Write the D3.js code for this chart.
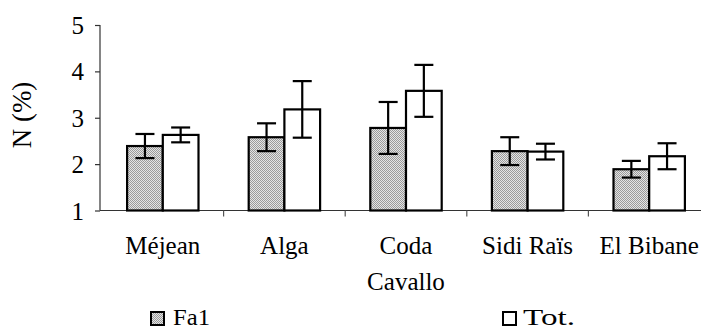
<!DOCTYPE html>
<html>
<head>
<meta charset="utf-8">
<script src="https://cdn.jsdelivr.net/npm/d3@7"></script>
<style>
html,body{margin:0;padding:0;background:#fff;}
svg{display:block;}
</style>
</head>
<body>
<svg id="chart" width="701" height="331"></svg>
<script>
const categories = ["Méjean", "Alga", "Coda Cavallo", "Sidi Raïs", "El Bibane"];
const seriesNames = ["Fa1", "Tot."];
const fa1Values = [2.39, 2.58, 2.78, 2.28, 1.89];
const fa1Errors = [0.26, 0.30, 0.56, 0.30, 0.18];
const totValues = [2.63, 3.18, 3.58, 2.27, 2.17];
const totErrors = [0.16, 0.61, 0.56, 0.17, 0.28];
const yTicks = [1, 2, 3, 4, 5];

const FONT = "'Liberation Serif', 'Times New Roman', 'DejaVu Serif', serif";
const svg = d3.select("#chart").attr("font-family", FONT);

const defs = svg.append("defs");
const pat = defs.append("pattern").attr("id", "dots")
  .attr("patternUnits", "userSpaceOnUse").attr("width", 2).attr("height", 2);
pat.append("rect").attr("width", 2).attr("height", 2).attr("fill", "#e4e4e4");
pat.append("rect").attr("x", 0).attr("y", 0).attr("width", 1).attr("height", 1).attr("fill", "#9a9a9a");
pat.append("rect").attr("x", 1).attr("y", 1).attr("width", 1).attr("height", 1).attr("fill", "#9a9a9a");

const y = d3.scaleLinear().domain([1, 5]).range([210.5, 25]);
const x = d3.scaleBand().domain(categories).range([102, 710]);
const barW = 35.7;
const capW = 19;

// Y axis
const yAxis = d3.axisLeft(y).tickValues(yTicks).tickSize(5).tickPadding(11).tickFormat(d3.format("d"));
const gy = svg.append("g").attr("transform", "translate(100,0)").call(yAxis)
  .attr("font-family", FONT).attr("font-size", 25);
gy.select(".domain").attr("stroke", "#333").attr("stroke-width", 1.2).attr("d", `M0,${y(5)}V${y(1)}`);
gy.selectAll(".tick line").attr("stroke", "#333").attr("stroke-width", 1.2);
gy.selectAll(".tick text").attr("fill", "#000").attr("dy", "0.34em");

// X axis line
svg.append("line").attr("x1", 100).attr("x2", 701).attr("y1", y(1)).attr("y2", y(1))
  .attr("stroke", "#333").attr("stroke-width", 1.2);
// category boundary ticks
svg.selectAll(".xtick").data(categories.slice(1)).enter().append("line")
  .attr("x1", d => x(d)).attr("x2", d => x(d))
  .attr("y1", y(1)).attr("y2", y(1) + 6)
  .attr("stroke", "#555").attr("stroke-width", 1.2);

// Bars
const groups = svg.selectAll(".grp").data(categories).enter().append("g");
const center = d => x(d) + x.bandwidth() / 2;

groups.append("rect")
  .attr("x", d => center(d) - barW).attr("width", barW)
  .attr("y", (d, i) => y(fa1Values[i])).attr("height", (d, i) => y(1) - y(fa1Values[i]))
  .attr("fill", "url(#dots)").attr("stroke", "#000").attr("stroke-width", 2.2);
groups.append("rect")
  .attr("x", d => center(d)).attr("width", barW)
  .attr("y", (d, i) => y(totValues[i])).attr("height", (d, i) => y(1) - y(totValues[i]))
  .attr("fill", "#fff").attr("stroke", "#000").attr("stroke-width", 2.2);

function errBar(g, cx, v, e) {
  g.append("line").attr("x1", cx).attr("x2", cx).attr("y1", y(v + e)).attr("y2", y(v - e))
    .attr("stroke", "#000").attr("stroke-width", 2.2);
  [v + e, v - e].forEach(t => {
    g.append("line").attr("x1", cx - capW / 2).attr("x2", cx + capW / 2)
      .attr("y1", y(t)).attr("y2", y(t)).attr("stroke", "#000").attr("stroke-width", 2.2);
  });
}
groups.each(function(d, i) {
  const g = d3.select(this);
  errBar(g, center(d) - barW / 2, fa1Values[i], fa1Errors[i]);
  errBar(g, center(d) + barW / 2, totValues[i], totErrors[i]);
});

// Category labels
groups.each(function(d) {
  const words = d === "Coda Cavallo" ? ["Coda", "Cavallo"] : [d];
  const t = d3.select(this).append("text").attr("text-anchor", "middle")
    .attr("font-family", FONT).attr("font-size", 25).attr("x", center(d)).attr("y", 254);
  words.forEach((w, k) => {
    t.append("tspan").attr("x", center(d)).attr("dy", k === 0 ? 0 : 36).text(w);
  });
});

// Y label
svg.append("text").attr("transform", "translate(31,115) rotate(-90)")
  .attr("font-family", FONT).attr("text-anchor", "middle").attr("font-size", 27).text("N (%)");

// Legend
const legend = [
  { name: seriesNames[0], fill: "url(#dots)", bx: 151, tx: 173, len: 37 },
  { name: seriesNames[1], fill: "#fff", bx: 503, tx: 523, len: 52 }
];
legend.forEach(l => {
  svg.append("rect").attr("x", l.bx).attr("y", 312).attr("width", 13).attr("height", 13)
    .attr("fill", l.fill).attr("stroke", "#000").attr("stroke-width", 2);
  svg.append("text").attr("x", l.tx).attr("y", 325).attr("font-family", FONT).attr("font-size", 23)
    .attr("textLength", l.len).attr("lengthAdjust", "spacingAndGlyphs").text(l.name);
});
</script>
</body>
</html>
